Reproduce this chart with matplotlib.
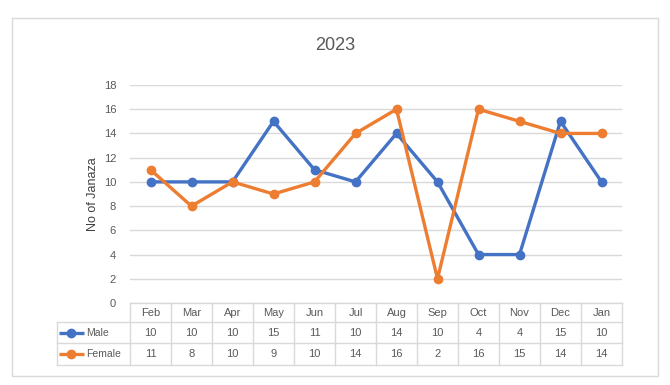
import matplotlib.pyplot as plt
from matplotlib.patches import Rectangle
from matplotlib.lines import Line2D
import matplotlib.transforms as mtransforms

months = ["Feb", "Mar", "Apr", "May", "Jun", "Jul", "Aug", "Sep", "Oct", "Nov", "Dec", "Jan"]
male = [10, 10, 10, 15, 11, 10, 14, 10, 4, 4, 15, 10]
female = [11, 8, 10, 9, 10, 14, 16, 2, 16, 15, 14, 14]
series = [("Male", male, "#4472C4"), ("Female", female, "#ED7D31")]

plt.rcParams['font.family'] = ['Liberation Sans', 'DejaVu Sans']
grid_c = "#d9d9d9"
text_c = "#595959"

fig = plt.figure(figsize=(6.7, 3.85), dpi=100)
W, H = 670, 385
# outer chart border
fig.patches.append(Rectangle((12 / W, 1 - 376 / H), 646 / W, 358 / H, transform=fig.transFigure,
                             fill=False, edgecolor=grid_c, lw=1))

ax = fig.add_axes([130 / W, 1 - 303 / H, 492 / W, 218 / H])
x = list(range(len(months)))
for name, vals, col in series:
    ax.plot(x, vals, color=col, lw=2.4, marker="o", ms=6, label=name, zorder=3)

ax.set_xlim(-0.5, len(months) - 0.5)
ax.set_ylim(0, 18)
ax.set_yticks(range(0, 19, 2))
ax.grid(axis="y", color=grid_c, lw=1)
ax.set_axisbelow(True)
for s in ax.spines.values():
    s.set_visible(False)
ax.tick_params(axis="y", length=0, pad=10, labelsize=8, labelcolor=text_c)
ax.set_xticks([])
ax.set_ylabel("No of Janaza", fontsize=9, color="#404040", labelpad=3)
fig.text(0.5, 1 - 45 / H, "2023", ha="center", va="center", fontsize=13, color=text_c)

# data table below axes
ah = 218.0
trans = mtransforms.blended_transform_factory(ax.transData, ax.transAxes)
rows_y = [0, -19 / ah, -40 / ah, -62 / ah]
lab_left = (57 - 130) / 492 * 12 - 0.5
kw = dict(color=grid_c, lw=1, clip_on=False, transform=trans)
ax.add_line(Line2D([-0.5, 11.5], [0, 0], **kw))
for yy in rows_y[1:]:
    ax.add_line(Line2D([lab_left, 11.5], [yy, yy], **kw))
for i in range(len(months) + 1):
    ax.add_line(Line2D([i - 0.5, i - 0.5], [0, rows_y[-1]], **kw))
ax.add_line(Line2D([lab_left, lab_left], [rows_y[1], rows_y[-1]], **kw))

for i, m in enumerate(months):
    ax.text(i, (rows_y[0] + rows_y[1]) / 2, m, transform=trans, ha="center", va="center",
            fontsize=8, color=text_c)
for r, (name, vals, col) in enumerate(series):
    yc = (rows_y[r + 1] + rows_y[r + 2]) / 2
    for i, v in enumerate(vals):
        ax.text(i, yc, str(v), transform=trans, ha="center", va="center", fontsize=8, color=text_c)
    ax.add_line(Line2D([lab_left + 0.05, lab_left + 0.66], [yc, yc], color=col, lw=2.4,
                       solid_capstyle="butt", clip_on=False, transform=trans))
    ax.add_line(Line2D([lab_left + 0.35], [yc], color=col, marker="o", ms=6,
                       clip_on=False, transform=trans))
    ax.text(lab_left + 0.72, yc, name, transform=trans, ha="left", va="center",
            fontsize=7.5, color=text_c, zorder=5)

fig.savefig("out.png", dpi=100)
